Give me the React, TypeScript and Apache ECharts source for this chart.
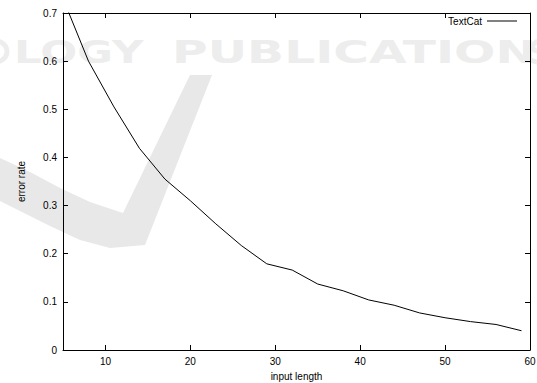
import React, { useEffect, useRef } from "react";
import * as echarts from "echarts";

const inputLength = [5, 8, 11, 14, 17, 20, 23, 26, 29, 32, 35, 38, 41, 44, 47, 50, 53, 56, 59];
const errorRate = [0.73, 0.6, 0.505, 0.419, 0.355, 0.31, 0.262, 0.217, 0.179, 0.166, 0.137, 0.123, 0.104, 0.093, 0.077, 0.067, 0.059, 0.053, 0.04];
const seriesName = "TextCat";

const FONT = "'Liberation Sans', Arial, Helvetica, sans-serif";
const WM = "#ededed";
const WM_FONT = "bold 32px 'DejaVu Sans', sans-serif";

export default function App() {
  const ref = useRef<HTMLDivElement>(null);
  useEffect(() => {
    if (!ref.current) return;
    const chart = echarts.init(ref.current, undefined, { renderer: "svg" });
    const axisCommon = {
      type: "value" as const,
      axisLine: { show: true, onZero: false, lineStyle: { color: "#000", width: 1 } },
      axisTick: { show: true, inside: true, length: 5, lineStyle: { color: "#000", width: 1 } },
      splitLine: { show: false },
    };
    chart.setOption({
      animation: false,
      backgroundColor: "#fff",
      textStyle: { fontFamily: FONT },
      graphic: [
        {
          type: "polygon",
          z: -10,
          silent: true,
          shape: {
            points: [
              [0, 158], [30, 172], [60, 188], [90, 202], [123, 213],
              [190, 75], [212, 75], [145, 245], [110, 248], [80, 240],
              [50, 226], [20, 211], [0, 201],
            ],
          },
          style: { fill: "#e8e8e8" },
        },
        {
          type: "ring",
          z: -10,
          silent: true,
          shape: { cx: -3, cy: 51.5, r: 12.5, r0: 7.5 },
          style: { fill: WM },
        },
        {
          type: "text",
          z: -10,
          silent: true,
          x: 14,
          y: 36,
          scaleX: 1.36,
          style: {
            text: "LOGY",
            fill: WM,
            font: WM_FONT,
            textAlign: "left",
            textVerticalAlign: "top",
          },
        },
        {
          type: "text",
          z: -10,
          silent: true,
          x: 172,
          y: 36,
          scaleX: 1.52,
          style: {
            text: "PUBLICATION",
            fill: WM,
            font: WM_FONT,
            textAlign: "left",
            textVerticalAlign: "top",
          },
        },
        {
          type: "polyline",
          z: -10,
          silent: true,
          shape: { points: [[545, 43], [536, 42], [532, 46], [534, 50], [542, 53]] },
          style: { stroke: WM, lineWidth: 5, fill: null },
        },
        {
          type: "polyline",
          z: -10,
          silent: true,
          shape: { points: [[530, 60], [537, 62], [545, 62]] },
          style: { stroke: WM, lineWidth: 5, fill: null },
        },
      ],
      legend: {
        show: true,
        right: 15,
        top: 11,
        align: "right",
        itemWidth: 30,
        itemHeight: 14,
        textStyle: { fontSize: 10, color: "#000", fontFamily: FONT },
        data: [{ name: seriesName, icon: "path://M0,0L30,0L30,1L0,1Z" }],
      },
      grid: { left: 63, right: 7, top: 13, bottom: 33, containLabel: false, outerBoundsMode: "none" },
      xAxis: [
        {
          ...axisCommon,
          position: "bottom",
          min: 5,
          max: 60,
          name: "input length",
          nameLocation: "middle",
          nameGap: 21,
          nameTextStyle: { fontSize: 10, color: "#000", fontFamily: FONT },
          axisLabel: {
            fontSize: 10,
            color: "#000",
            margin: 6,
            showMinLabel: false,
            fontFamily: FONT,
          },
        },
        {
          ...axisCommon,
          position: "top",
          min: 5,
          max: 60,
          axisLabel: { show: false },
        },
      ],
      yAxis: [
        {
          ...axisCommon,
          position: "left",
          min: 0,
          max: 0.7,
          interval: 0.1,
          name: "error rate",
          nameLocation: "middle",
          nameGap: 37,
          nameRotate: 90,
          nameTextStyle: { fontSize: 10, color: "#000", fontFamily: FONT },
          axisLabel: {
            fontSize: 10,
            color: "#000",
            margin: 6,
            fontFamily: FONT,
            formatter: (v: number) => String(Math.round(v * 10) / 10),
          },
        },
        {
          ...axisCommon,
          position: "right",
          min: 0,
          max: 0.7,
          interval: 0.1,
          axisLabel: { show: false },
        },
      ],
      series: [
        {
          name: seriesName,
          type: "line",
          xAxisIndex: 0,
          yAxisIndex: 0,
          symbol: "none",
          clip: true,
          lineStyle: { color: "#000", width: 1 },
          itemStyle: { color: "#000" },
          data: inputLength.map((x, i) => [x, errorRate[i]]),
        },
      ],
    });
    return () => chart.dispose();
  }, []);
  return (
    <div
      ref={ref}
      style={{ position: "fixed", left: 0, top: 0, width: 537, height: 383 }}
    />
  );
}
